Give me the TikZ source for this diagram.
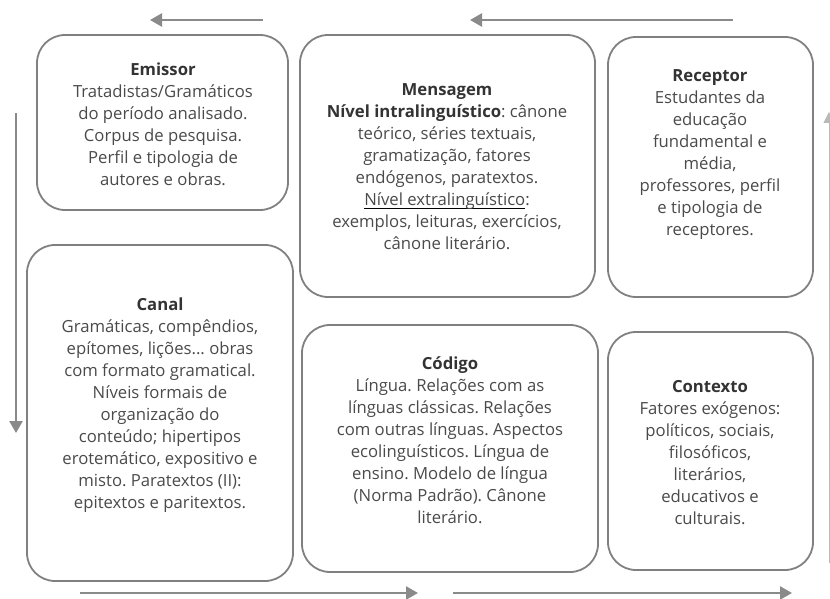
\documentclass[tikz,border=0pt]{standalone}
\usepackage{fontspec}
\setmainfont{Open Sans}[Ligatures=CommonOff]
\usetikzlibrary{arrows.meta}
\definecolor{boxc}{HTML}{808080}
\definecolor{txtc}{HTML}{4A4A4A}
\definecolor{hdrc}{HTML}{333333}
\definecolor{arrc}{HTML}{8A8A8A}
\newcommand\hdr[1]{{\color{hdrc}\bfseries #1}}
\newsavebox\myulbox
\newcommand\myul[1]{\sbox\myulbox{#1}\rlap{\color{black}\rule[-3.2pt]{\wd\myulbox}{1pt}}\usebox\myulbox}
\frenchspacing
\begin{document}
\begin{tikzpicture}[x=1pt,y=-1pt,
  box/.style={draw=boxc, line width=1.8pt, rounded corners=28pt, inner sep=0pt},
  lbl/.style={align=center, text=txtc, font=\fontsize{16.7}{22}\selectfont\frenchspacing, inner sep=0pt},
  flow/.style={draw=arrc, line width=2.5pt, -{Triangle[width=13pt,length=12pt]}},
  thinflow/.style={draw=arrc!60, line width=1pt, -{Triangle[width=11pt,length=11pt]}}]
\useasboundingbox (0,0) rectangle (830,599);
% boxes
\node[box, minimum width=251pt, minimum height=175pt] (emissor) at (162.5,122.5) {};
\node[box, minimum width=295pt, minimum height=262pt] (mensagem) at (447.5,166) {};
\node[box, minimum width=205pt, minimum height=260pt] (receptor) at (710.5,167) {};
\node[box, minimum width=266pt, minimum height=336pt] (canal) at (160,413) {};
\node[box, minimum width=296pt, minimum height=247pt] (codigo) at (450,448.5) {};
\node[box, minimum width=205pt, minimum height=238pt] (contexto) at (710.5,451) {};
% texts
\node[lbl] (emissorT) at (163,124) {\hdr{Emissor}\\Tratadistas/Gramáticos\\do período analisado.\\Corpus de pesquisa.\\Perfil e tipologia de\\autores e obras.};
\node[lbl] (mensagemT) at (447,166.5) {\hdr{Mensagem}\\\hdr{Nível intralinguístico}: cânone\\teórico, séries textuais,\\gramatização, fatores\\endógenos, paratextos.\\\myul{Nível extralinguístico}:\\exemplos, leituras, exercícios,\\cânone literário.};
\node[lbl] (receptorT) at (710,155) {\hdr{Receptor}\\Estudantes da\\educação\\fundamental e\\média,\\professores, perfil\\e tipologia de\\receptores.};
\node[lbl] (canalT) at (160,405) {\hdr{Canal}\\Gramáticas, compêndios,\\epítomes, lições... obras\\com formato gramatical.\\Níveis formais de\\organização do\\conteúdo; hipertipos\\erotemático, expositivo e\\misto. Paratextos (II):\\epitextos e paritextos.};
\node[lbl] (codigoT) at (450,440) {\hdr{Código}\\Língua. Relações com as\\línguas clássicas. Relações\\com outras línguas. Aspectos\\ecolinguísticos. Língua de\\ensino. Modelo de língua\\(Norma Padrão). Cânone\\literário.};
\node[lbl] (contextoT) at (710,453) {\hdr{Contexto}\\Fatores exógenos:\\políticos, sociais,\\filosóficos,\\literários,\\educativos e\\culturais.};
% arrow end points
\coordinate (t1a) at (263,20); \coordinate (t1b) at (150,20);
\coordinate (t2a) at (733,20); \coordinate (t2b) at (470,20);
\coordinate (la) at (16,113);  \coordinate (lb) at (16,433);
\coordinate (ra) at (829,563); \coordinate (rb) at (829,112);
\coordinate (b1a) at (80,593); \coordinate (b1b) at (418,593);
\coordinate (b2a) at (453,593); \coordinate (b2b) at (792,593);
\draw[flow] (t1a) -- (t1b);
\draw[flow] (t2a) -- (t2b);
\draw[flow] (la) -- (lb);
\draw[thinflow] (ra) -- (rb);
\draw[flow] (b1a) -- (b1b);
\draw[flow] (b2a) -- (b2b);
\end{tikzpicture}
\end{document}
